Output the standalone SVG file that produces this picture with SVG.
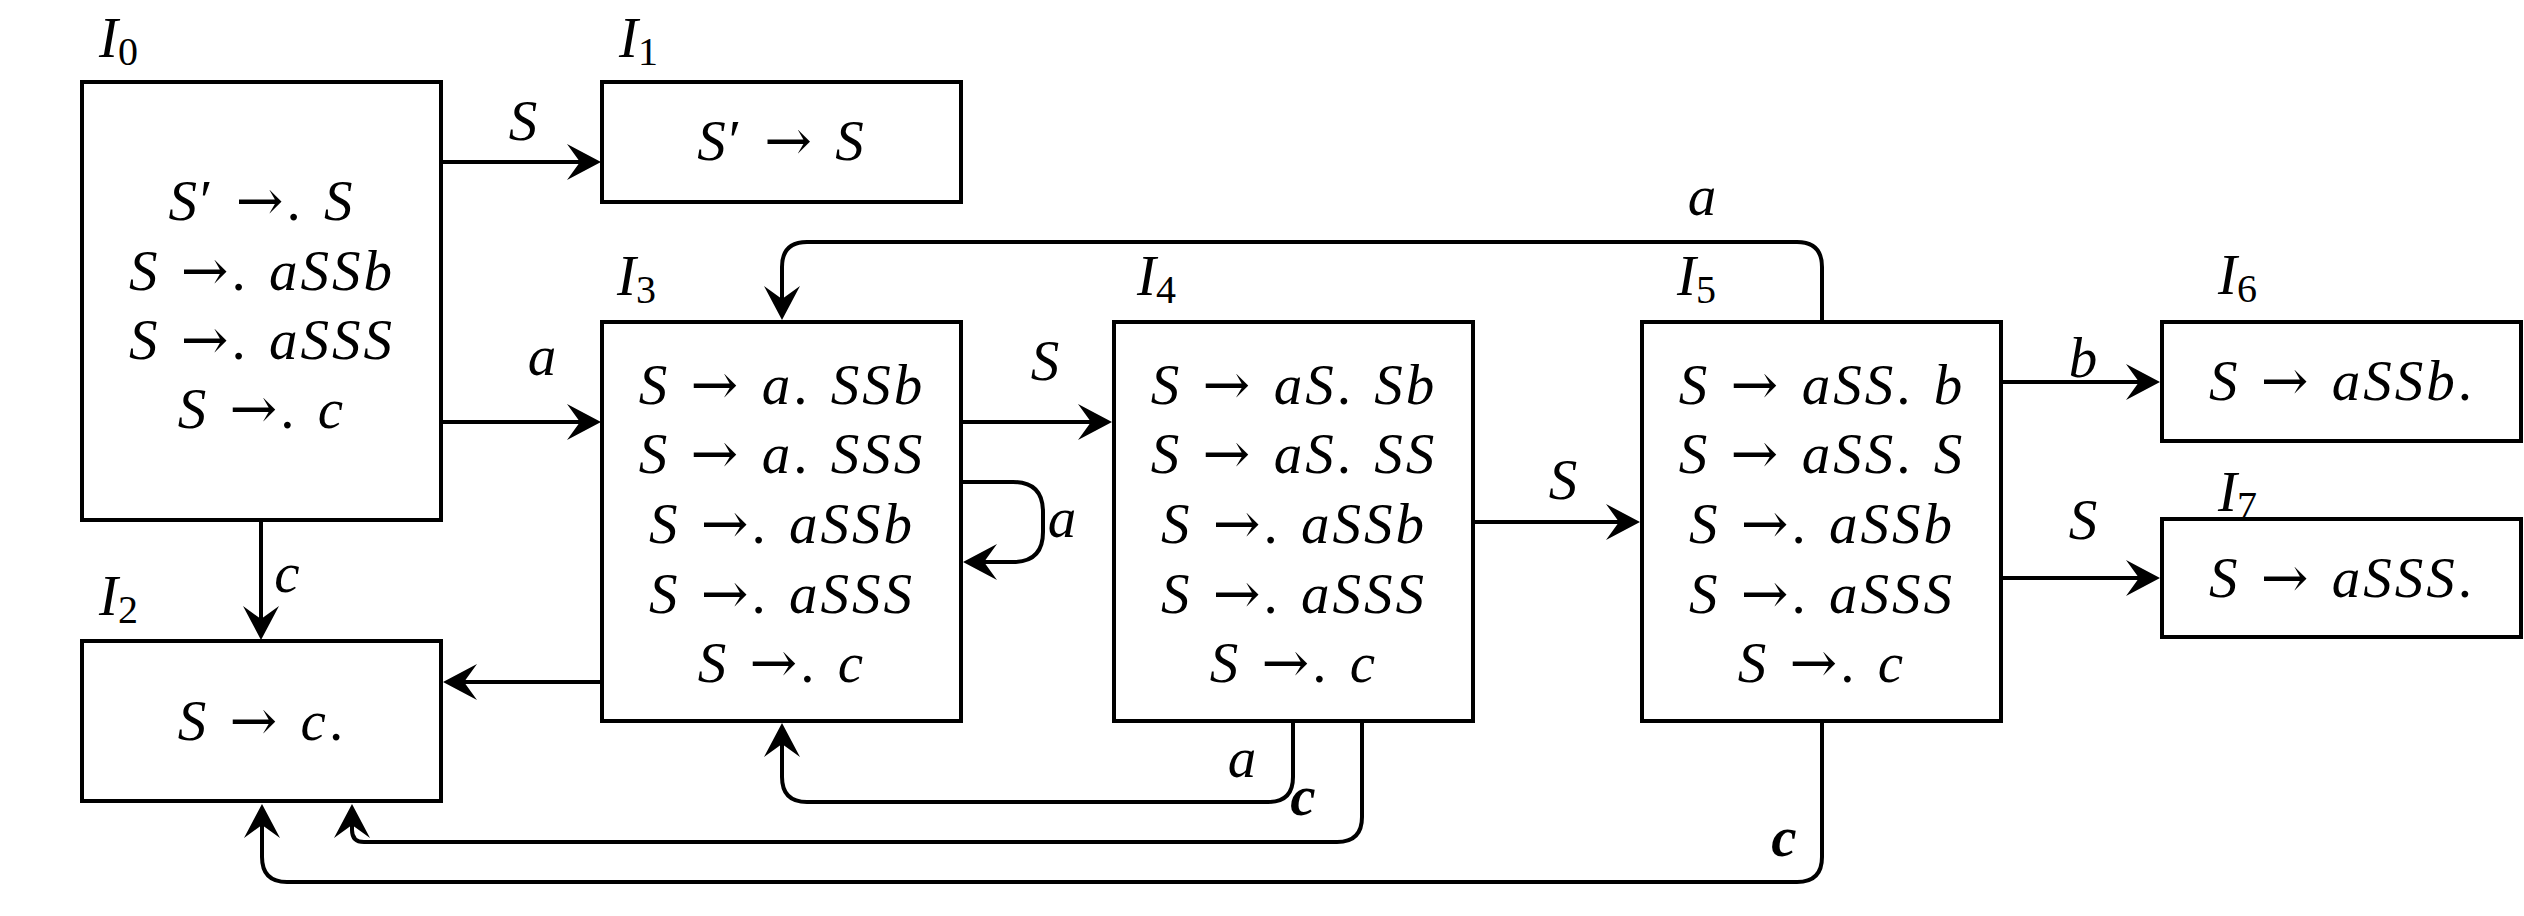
<svg xmlns="http://www.w3.org/2000/svg" width="2524" height="916" viewBox="0 0 2524 916">
<style>
  .box { fill: #ffffff; stroke: #000000; stroke-width: 4; }
  .t { font-family: "Liberation Serif", "DejaVu Serif", serif; font-style: italic; font-size: 57px; fill: #000000; text-anchor: middle; }
  .n { letter-spacing: 3px; word-spacing: 3px; }
  .lbl { font-family: "Liberation Serif", "DejaVu Serif", serif; font-style: italic; font-size: 57px; fill: #000000; }
  .r { font-style: normal; }
  .ar { font-family: "DejaVu Serif", "Liberation Serif", serif; font-style: normal; }
  .sub { font-style: normal; font-size: 40px; }
  .edge { fill: none; stroke: #000000; stroke-width: 4; marker-end: url(#arr); }
  .bold { font-weight: bold; }
</style>
<defs>
  <marker id="arr" markerUnits="userSpaceOnUse" viewBox="-36 -20 40 40" refX="-21" refY="0" markerWidth="40" markerHeight="40" orient="auto">
    <path d="M0,0 L-34,-18 L-21,0 L-34,18 Z" fill="#000000"/>
  </marker>
</defs>
<rect width="2524" height="916" fill="#ffffff"/>

<g id="connectors">
  <path class="edge" d="M443,162 H580"/>
  <path class="edge" d="M443,422 H580"/>
  <path class="edge" d="M261,522 V619"/>
  <path class="edge" d="M600,682 H464"/>
  <path class="edge" d="M963,422 H1091"/>
  <path class="edge" d="M963,482 H1013 Q1043,482 1043,512 V532 Q1043,562 1013,562 H984"/>
  <path class="edge" d="M1475,522 H1619"/>
  <path class="edge" d="M2003,382 H2139"/>
  <path class="edge" d="M2003,578 H2139"/>
  <path class="edge" d="M1822,320 V267 Q1822,242 1797,242 H807 Q782,242 782,267 V299"/>
  <path class="edge" d="M1293,723 V777 Q1293,802 1268,802 H807 Q782,802 782,777 V744"/>
  <path class="edge" d="M1362,723 V817 Q1362,842 1337,842 H364 Q352,842 352,830 V825"/>
  <path class="edge" d="M1822,723 V857 Q1822,882 1797,882 H287 Q262,882 262,857 V825"/>
  <text class="t" x="523" y="140">S</text>
  <text class="t" x="542" y="375">a</text>
  <text class="t" x="287" y="592">c</text>
  <text class="t" x="1045" y="380">S</text>
  <text class="t" x="1062" y="537">a</text>
  <text class="t" x="1563" y="499">S</text>
  <text class="t" x="1702" y="215">a</text>
  <text class="t" x="2083" y="377">b</text>
  <text class="t" x="2083" y="539">S</text>
  <text class="t" x="1242" y="777">a</text>
  <text class="t bold" x="1303" y="815">c</text>
  <text class="t bold" x="1784" y="856">c</text>
</g>

<g id="I0">
  <rect class="box" x="82" y="82" width="359" height="438"/>
  <text class="lbl" x="99" y="57">I<tspan class="sub" dy="8">0</tspan></text>
  <text class="t n" x="262" y="220">S<tspan class="r">′ </tspan><tspan class="ar">→</tspan><tspan class="r">. </tspan>S</text>
  <text class="t n" x="262" y="290">S<tspan class="r"> </tspan><tspan class="ar">→</tspan><tspan class="r">. </tspan>aSSb</text>
  <text class="t n" x="262" y="359">S<tspan class="r"> </tspan><tspan class="ar">→</tspan><tspan class="r">. </tspan>aSSS</text>
  <text class="t n" x="262" y="428">S<tspan class="r"> </tspan><tspan class="ar">→</tspan><tspan class="r">. </tspan>c</text>
</g>

<g id="I1">
  <rect class="box" x="602" y="82" width="359" height="120"/>
  <text class="lbl" x="619" y="57">I<tspan class="sub" dy="8">1</tspan></text>
  <text class="t n" x="782" y="160">S<tspan class="r">′ </tspan><tspan class="ar">→</tspan><tspan class="r"> </tspan>S</text>
</g>

<g id="I2">
  <rect class="box" x="82" y="641" width="359" height="160"/>
  <text class="lbl" x="99" y="615">I<tspan class="sub" dy="8">2</tspan></text>
  <text class="t n" x="262" y="740">S<tspan class="r"> </tspan><tspan class="ar">→</tspan><tspan class="r"> </tspan>c<tspan class="r">.</tspan></text>
</g>

<g id="I3">
  <rect class="box" x="602" y="322" width="359" height="399"/>
  <text class="lbl" x="617" y="295">I<tspan class="sub" dy="8">3</tspan></text>
  <text class="t n" x="782" y="404">S<tspan class="r"> </tspan><tspan class="ar">→</tspan><tspan class="r"> </tspan>a<tspan class="r">. </tspan>SSb</text>
  <text class="t n" x="782" y="473">S<tspan class="r"> </tspan><tspan class="ar">→</tspan><tspan class="r"> </tspan>a<tspan class="r">. </tspan>SSS</text>
  <text class="t n" x="782" y="543">S<tspan class="r"> </tspan><tspan class="ar">→</tspan><tspan class="r">. </tspan>aSSb</text>
  <text class="t n" x="782" y="613">S<tspan class="r"> </tspan><tspan class="ar">→</tspan><tspan class="r">. </tspan>aSSS</text>
  <text class="t n" x="782" y="682">S<tspan class="r"> </tspan><tspan class="ar">→</tspan><tspan class="r">. </tspan>c</text>
</g>

<g id="I4">
  <rect class="box" x="1114" y="322" width="359" height="399"/>
  <text class="lbl" x="1137" y="295">I<tspan class="sub" dy="8">4</tspan></text>
  <text class="t n" x="1294" y="404">S<tspan class="r"> </tspan><tspan class="ar">→</tspan><tspan class="r"> </tspan>aS<tspan class="r">. </tspan>Sb</text>
  <text class="t n" x="1294" y="473">S<tspan class="r"> </tspan><tspan class="ar">→</tspan><tspan class="r"> </tspan>aS<tspan class="r">. </tspan>SS</text>
  <text class="t n" x="1294" y="543">S<tspan class="r"> </tspan><tspan class="ar">→</tspan><tspan class="r">. </tspan>aSSb</text>
  <text class="t n" x="1294" y="613">S<tspan class="r"> </tspan><tspan class="ar">→</tspan><tspan class="r">. </tspan>aSSS</text>
  <text class="t n" x="1294" y="682">S<tspan class="r"> </tspan><tspan class="ar">→</tspan><tspan class="r">. </tspan>c</text>
</g>

<g id="I5">
  <rect class="box" x="1642" y="322" width="359" height="399"/>
  <text class="lbl" x="1677" y="295">I<tspan class="sub" dy="8">5</tspan></text>
  <text class="t n" x="1822" y="404">S<tspan class="r"> </tspan><tspan class="ar">→</tspan><tspan class="r"> </tspan>aSS<tspan class="r">. </tspan>b</text>
  <text class="t n" x="1822" y="473">S<tspan class="r"> </tspan><tspan class="ar">→</tspan><tspan class="r"> </tspan>aSS<tspan class="r">. </tspan>S</text>
  <text class="t n" x="1822" y="543">S<tspan class="r"> </tspan><tspan class="ar">→</tspan><tspan class="r">. </tspan>aSSb</text>
  <text class="t n" x="1822" y="613">S<tspan class="r"> </tspan><tspan class="ar">→</tspan><tspan class="r">. </tspan>aSSS</text>
  <text class="t n" x="1822" y="682">S<tspan class="r"> </tspan><tspan class="ar">→</tspan><tspan class="r">. </tspan>c</text>
</g>

<g id="I6">
  <rect class="box" x="2162" y="322" width="359" height="119"/>
  <text class="lbl" x="2218" y="294">I<tspan class="sub" dy="8">6</tspan></text>
  <text class="t n" x="2342" y="400">S<tspan class="r"> </tspan><tspan class="ar">→</tspan><tspan class="r"> </tspan>aSSb<tspan class="r">.</tspan></text>
</g>

<g id="I7">
  <rect class="box" x="2162" y="519" width="359" height="118"/>
  <text class="lbl" x="2218" y="511">I<tspan class="sub" dy="8">7</tspan></text>
  <text class="t n" x="2342" y="597">S<tspan class="r"> </tspan><tspan class="ar">→</tspan><tspan class="r"> </tspan>aSSS<tspan class="r">.</tspan></text>
</g>
</svg>
